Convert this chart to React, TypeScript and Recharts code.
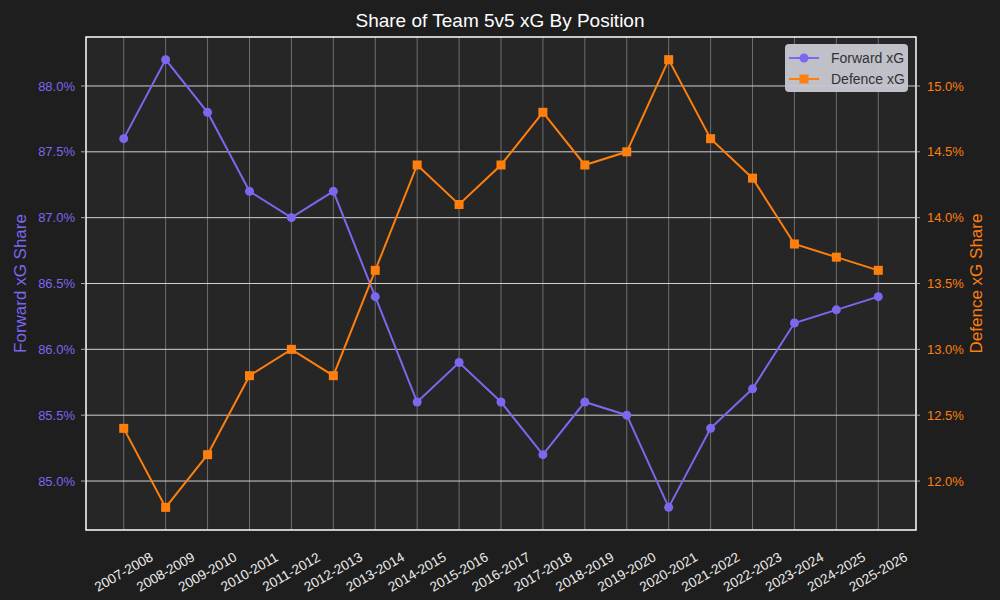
import React from "react";
import {
  ComposedChart,
  Line,
  XAxis,
  YAxis,
  CartesianGrid,
  Legend,
  ReferenceArea,
  Label,
} from "recharts";

const SEASONS = [
  "2007-2008", "2008-2009", "2009-2010", "2010-2011", "2011-2012",
  "2012-2013", "2013-2014", "2014-2015", "2015-2016", "2016-2017",
  "2017-2018", "2018-2019", "2019-2020", "2020-2021", "2021-2022",
  "2022-2023", "2023-2024", "2024-2025", "2025-2026",
];
const FORWARD_XG = [
  87.6, 88.2, 87.8, 87.2, 87.0, 87.2, 86.4, 85.6, 85.9, 85.6,
  85.2, 85.6, 85.5, 84.8, 85.4, 85.7, 86.2, 86.3, 86.4,
];
const DEFENCE_XG = [
  12.4, 11.8, 12.2, 12.8, 13.0, 12.8, 13.6, 14.4, 14.1, 14.4,
  14.8, 14.4, 14.5, 15.2, 14.6, 14.3, 13.8, 13.7, 13.6,
];
const FORWARD_TICKS = [85, 85.5, 86, 86.5, 87, 87.5, 88];
const DEFENCE_TICKS = [12, 12.5, 13, 13.5, 14, 14.5, 15];

const FWD_COLOR = "#7b68ee";
const DEF_COLOR = "#ff7f0e";
const FONT = "'Liberation Sans', Arial, sans-serif";

const data = SEASONS.map((season, i) => ({
  idx: i,
  season,
  forward: FORWARD_XG[i],
  defence: DEFENCE_XG[i],
}));

const pct = (v: number) => `${v.toFixed(1)}%`;

function SeasonTick({ x, y, payload }: any) {
  const cy = y + 34;
  return (
    <text
      x={x}
      y={cy}
      transform={`rotate(-30, ${x}, ${cy})`}
      textAnchor="middle"
      dominantBaseline="central"
      fill="#eeeeee"
      fontSize={13.5}
      fontFamily={FONT}
    >
      {SEASONS[payload.value]}
    </text>
  );
}

function AxisTitle({ viewBox, value, color, side }: any) {
  const cx = side === "left" ? 20 : 976;
  const cy = viewBox.y + viewBox.height / 2;
  return (
    <text
      x={cx}
      y={cy}
      transform={`rotate(-90, ${cx}, ${cy})`}
      textAnchor="middle"
      dominantBaseline="central"
      fill={color}
      fontSize={17}
      fontFamily={FONT}
    >
      {value}
    </text>
  );
}

function LegendBox() {
  const row = (label: string, color: string, square: boolean) => (
    <div style={{ display: "flex", alignItems: "center", height: 21 }}>
      <svg width={30} height={12} style={{ marginRight: 12, flex: "none" }}>
        <line x1={0} y1={6} x2={30} y2={6} stroke={color} strokeWidth={2} />
        {square ? (
          <rect x={10.5} y={1.5} width={9} height={9} fill={color} />
        ) : (
          <circle cx={15} cy={6} r={4.5} fill={color} />
        )}
      </svg>
      <span style={{ whiteSpace: "nowrap" }}>{label}</span>
    </div>
  );
  return (
    <div
      style={{
        background: "rgba(200,200,210,0.95)",
        borderRadius: 4,
        padding: "3px 4px",
        color: "#333333",
        fontSize: 14,
        fontFamily: FONT,
        width: 123,
        boxSizing: "border-box",
        whiteSpace: "nowrap",
      }}
    >
      {row("Forward xG", FWD_COLOR, false)}
      {row("Defence xG", DEF_COLOR, true)}
    </div>
  );
}

export default function App() {
  return (
    <div
      style={{
        position: "absolute",
        left: 0,
        top: 0,
        width: 1000,
        height: 600,
        background: "#1e1e1e",
        fontFamily: FONT,
      }}
    >
      <div
        style={{
          position: "absolute",
          top: 10,
          width: 1000,
          textAlign: "center",
          color: "#ffffff",
          fontSize: 19,
        }}
      >
        Share of Team 5v5 xG By Position
      </div>
      <ComposedChart
        width={1000}
        height={600}
        data={data}
        margin={{ top: 37, right: 0, bottom: 0, left: 0 }}
      >
        <CartesianGrid
          yAxisId="fwd"
          horizontal={false}
          stroke="#6e6e6e"
          fill="#262626"
          verticalValues={SEASONS.map((_, i) => i)}
        />
        <CartesianGrid
          yAxisId="fwd"
          vertical={false}
          stroke="#d0d0d0"
          horizontalValues={FORWARD_TICKS}
        />
        <XAxis
          dataKey="idx"
          type="number"
          domain={[-0.9, 18.9]}
          ticks={SEASONS.map((_, i) => i)}
          interval={0}
          allowDataOverflow
          height={70}
          tickLine={false}
          axisLine={false}
          tick={<SeasonTick />}
        />
        <YAxis
          yAxisId="fwd"
          orientation="left"
          width={86}
          domain={[84.628, 88.372]}
          ticks={FORWARD_TICKS}
          allowDataOverflow
          tickFormatter={pct}
          axisLine={false}
          tickSize={5}
          tickMargin={6}
          tickLine={{ stroke: "#aaaaaa" }}
          tick={{ fill: FWD_COLOR, fontSize: 13, fontFamily: FONT }}
        >
          <Label
            content={(p: any) => (
              <AxisTitle {...p} value="Forward xG Share" color={FWD_COLOR} side="left" />
            )}
          />
        </YAxis>
        <YAxis
          yAxisId="def"
          orientation="right"
          width={84}
          domain={[11.628, 15.372]}
          ticks={DEFENCE_TICKS}
          allowDataOverflow
          tickFormatter={pct}
          axisLine={false}
          tickSize={4}
          tickMargin={7}
          tickLine={{ stroke: "#aaaaaa" }}
          tick={{ fill: DEF_COLOR, fontSize: 13, fontFamily: FONT }}
        >
          <Label
            content={(p: any) => (
              <AxisTitle {...p} value="Defence xG Share" color={DEF_COLOR} side="right" />
            )}
          />
        </YAxis>
        <ReferenceArea
          yAxisId="fwd"
          x1={-0.9}
          x2={18.9}
          y1={84.628}
          y2={88.372}
          fill="none"
          fillOpacity={0}
          stroke="#ffffff"
          strokeWidth={1.5}
          strokeOpacity={1}
        />
        <Line
          yAxisId="fwd"
          dataKey="forward"
          stroke={FWD_COLOR}
          strokeWidth={2}
          isAnimationActive={false}
          dot={{ r: 4.5, fill: FWD_COLOR, stroke: "none" }}
        />
        <Line
          yAxisId="def"
          dataKey="defence"
          stroke={DEF_COLOR}
          strokeWidth={2}
          isAnimationActive={false}
          dot={(p: any) => (
            <rect
              key={`sq-${p.index}`}
              x={p.cx - 4.5}
              y={p.cy - 4.5}
              width={9}
              height={9}
              fill={DEF_COLOR}
            />
          )}
        />
        <Legend
          layout="vertical"
          align="center"
          verticalAlign="middle"
          wrapperStyle={{ top: 44, left: 785, width: 123 }}
          content={() => <LegendBox />}
        />
      </ComposedChart>
    </div>
  );
}
